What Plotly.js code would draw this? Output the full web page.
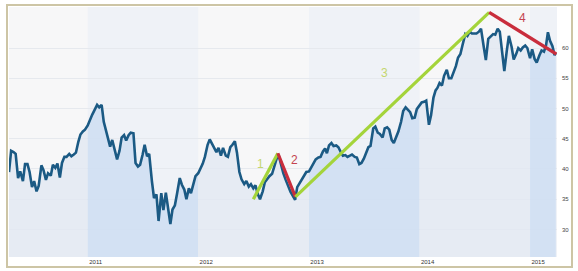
<!DOCTYPE html>
<html><head><meta charset="utf-8">
<script src="https://cdn.plot.ly/plotly-3.0.1.min.js"></script>
<style>
html,body{margin:0;padding:0;background:#fff;}
#wrap{position:relative;width:578px;height:271px;overflow:hidden;}
#chart{position:absolute;left:0;top:0;width:578px;height:271px;}
#frame{position:absolute;left:6px;top:4px;width:563px;height:260px;border:2px solid #cdc5a5;pointer-events:none;}
</style></head><body>
<div id="wrap"><div id="chart"></div><div id="frame"></div></div>
<script>
// Price series (weekly-ish readings)
const dates = [
"2010-04-16","2010-04-23",
"2010-05-01","2010-05-08","2010-05-16","2010-05-23",
"2010-06-01","2010-06-08","2010-06-16","2010-06-23",
"2010-07-01","2010-07-08","2010-07-16","2010-07-23",
"2010-08-01","2010-08-08","2010-08-16","2010-08-23",
"2010-09-01","2010-09-08","2010-09-16","2010-09-23",
"2010-10-01","2010-10-08","2010-10-16","2010-10-23",
"2010-11-01","2010-11-08","2010-11-16","2010-11-23",
"2010-12-01","2010-12-08","2010-12-16","2010-12-23",
"2011-01-01","2011-01-08","2011-01-16","2011-01-23",
"2011-02-01","2011-02-08","2011-02-16","2011-02-23",
"2011-03-01","2011-03-08","2011-03-16","2011-03-23",
"2011-04-01","2011-04-08","2011-04-16","2011-04-23",
"2011-05-01","2011-05-08","2011-05-16","2011-05-23",
"2011-06-01","2011-06-08","2011-06-16","2011-06-23",
"2011-07-01","2011-07-08","2011-07-16","2011-07-23",
"2011-08-01","2011-08-08","2011-08-16","2011-08-23",
"2011-09-01","2011-09-08","2011-09-16","2011-09-23",
"2011-10-01","2011-10-08","2011-10-16","2011-10-23",
"2011-11-01","2011-11-08","2011-11-16","2011-11-23",
"2011-12-01","2011-12-08","2011-12-16","2011-12-23",
"2012-01-01","2012-01-08","2012-01-16","2012-01-23",
"2012-02-01","2012-02-08","2012-02-16","2012-02-23",
"2012-03-01","2012-03-08","2012-03-16","2012-03-23",
"2012-04-01","2012-04-08","2012-04-16","2012-04-23",
"2012-05-01","2012-05-08","2012-05-16","2012-05-23",
"2012-06-01","2012-06-08","2012-06-16","2012-06-23",
"2012-07-01","2012-07-08","2012-07-16","2012-07-23",
"2012-08-01","2012-08-08","2012-08-16","2012-08-23",
"2012-09-01","2012-09-08","2012-09-16","2012-09-23",
"2012-10-01","2012-10-08","2012-10-16","2012-10-23",
"2012-11-01","2012-11-08","2012-11-16","2012-11-23",
"2012-12-01","2012-12-08","2012-12-16","2012-12-23",
"2013-01-01","2013-01-08","2013-01-16","2013-01-23",
"2013-02-01","2013-02-08","2013-02-16","2013-02-23",
"2013-03-01","2013-03-08","2013-03-16","2013-03-23",
"2013-04-01","2013-04-08","2013-04-16","2013-04-23",
"2013-05-01","2013-05-08","2013-05-16","2013-05-23",
"2013-06-01","2013-06-08","2013-06-16","2013-06-23",
"2013-07-01","2013-07-08","2013-07-16","2013-07-23",
"2013-08-01","2013-08-08","2013-08-16","2013-08-23",
"2013-09-01","2013-09-08","2013-09-16","2013-09-23",
"2013-10-01","2013-10-08","2013-10-16","2013-10-23",
"2013-11-01","2013-11-08","2013-11-16","2013-11-23",
"2013-12-01","2013-12-08","2013-12-16","2013-12-23",
"2014-01-01","2014-01-08","2014-01-16","2014-01-23",
"2014-02-01","2014-02-08","2014-02-16","2014-02-23",
"2014-03-01","2014-03-08","2014-03-16","2014-03-23",
"2014-04-01","2014-04-08","2014-04-16","2014-04-23",
"2014-05-01","2014-05-08","2014-05-16","2014-05-23",
"2014-06-01","2014-06-08","2014-06-16","2014-06-23",
"2014-07-01","2014-07-08","2014-07-16","2014-07-23",
"2014-08-01","2014-08-08","2014-08-16","2014-08-23",
"2014-09-01","2014-09-08","2014-09-16","2014-09-23",
"2014-10-01","2014-10-08","2014-10-16","2014-10-23",
"2014-11-01","2014-11-08","2014-11-16","2014-11-23",
"2014-12-01","2014-12-08","2014-12-16","2014-12-23",
"2015-01-01","2015-01-08","2015-01-16","2015-01-23",
"2015-02-01","2015-02-08","2015-02-16","2015-02-23",
"2015-03-01","2015-03-08","2015-03-16","2015-03-23","2015-03-27"
];
const price = [
39.5,43.0,
42.8,42.5,38.5,39.6,
38.0,40.8,40.8,39.5,
37.0,38.0,36.3,37.2,
40.6,39.8,38.2,39.3,
38.9,40.7,40.2,40.9,
38.6,41.0,42.0,42.0,
42.5,42.1,42.4,42.7,
44.5,45.7,46.2,46.5,
47.2,48.2,49.0,49.7,
50.6,50.2,50.6,47.8,
46.6,45.5,43.7,44.8,
42.8,41.6,43.0,45.2,
45.6,44.7,45.6,46.0,
45.9,41.0,40.4,40.7,
42.3,44.0,42.1,42.5,
38.0,35.2,35.8,31.4,
36.0,33.2,36.1,33.6,
30.9,33.3,34.0,35.9,
38.5,37.4,36.6,35.0,
36.8,36.0,37.3,38.8,
39.3,40.0,40.9,42.0,
44.0,44.9,44.2,43.4,
42.8,43.5,42.2,43.5,
42.2,42.0,43.6,44.0,
44.6,42.7,39.5,38.3,
37.5,38.0,37.1,37.5,
36.8,37.3,35.8,35.0,
36.3,37.8,38.4,38.8,
39.2,40.4,41.7,42.2,
40.4,39.3,38.2,37.2,
36.2,35.6,34.9,37.0,
37.7,38.1,38.8,39.5,
39.6,40.2,40.9,41.6,
41.9,42.0,42.9,43.4,
42.6,43.9,44.3,43.8,
43.9,43.6,42.8,42.2,
42.3,42.0,42.2,42.4,
42.0,41.9,40.8,41.0,
41.7,42.5,43.6,43.8,
46.7,47.0,46.0,45.8,
45.2,46.7,46.9,46.5,
44.8,44.3,45.3,46.2,
47.8,49.6,50.2,49.9,
49.4,48.4,48.5,49.9,
50.6,51.0,51.1,51.3,
47.3,48.9,51.8,53.0,
53.4,54.2,53.8,55.4,
56.4,55.0,55.0,55.8,
57.0,58.4,59.0,60.5,
62.3,62.0,62.7,62.4,
62.4,62.4,62.7,63.2,
60.2,58.0,61.5,61.9,
62.3,62.2,63.2,62.7,
59.0,56.2,59.5,62.0,
60.2,58.1,59.0,60.0,
59.6,60.1,60.4,60.0,
58.3,59.8,58.2,57.6,
58.8,59.6,59.4,60.5,
62.6,61.2,60.3,58.8,59.2
];

// Trend segments
const trend1X = ["2012-07-01","2012-09-20"], trend1Y = [35.0, 42.6];
const trend2X = ["2012-09-20","2012-11-17"], trend2Y = [42.6, 35.4];
const trend3X = ["2012-11-17","2014-08-19"], trend3Y = [35.4, 65.9];
const trend4X = ["2014-08-19","2015-03-29"], trend4Y = [65.9, 59.0];
const trendLabels = ["1","2","3","4"];

// Axes / bands
const yTicks = [30,35,40,45,50,55,60];
const xTickVals = ["2011-01-01","2012-01-01","2013-01-01","2014-01-01","2015-01-01"];
const xTickText = ["2011","2012","2013","2014","2015"];
const bandStarts = ["2010-01-01","2011-01-01","2012-01-01","2013-01-01","2014-01-01","2015-01-01"];
const bandEnds   = ["2011-01-01","2012-01-01","2013-01-01","2014-01-01","2015-01-01","2015-12-31"];
const bandShaded = [false, true, false, true, false, true];

const GREEN = "#a4d43a", RED = "#c92d3c";
const FILL_LIGHT = "rgba(226,232,241,0.82)", FILL_BLUE = "rgba(206,222,242,0.85)";

const traces = [];
// area fill, split per year band so shaded years get a bluer fill
bandStarts.forEach((s, b) => {
  const xs = [], ys = [];
  dates.forEach((d, i) => { if (d >= s && d <= bandEnds[b]) { xs.push(d); ys.push(price[i]); } });
  if (xs.length > 1) traces.push({x: xs, y: ys, type: "scatter", mode: "lines", fill: "tozeroy",
    fillcolor: bandShaded[b] ? FILL_BLUE : FILL_LIGHT, line: {width: 0}, hoverinfo: "skip"});
});
traces.push({x: dates, y: price, type: "scatter", mode: "lines",
   line: {color: "#1b5a84", width: 2.6}, hoverinfo: "skip"});
traces.push({x: trend1X, y: trend1Y, type: "scatter", mode: "lines", line: {color: GREEN, width: 3.2}});
traces.push({x: trend2X, y: trend2Y, type: "scatter", mode: "lines", line: {color: RED, width: 3.2}});
traces.push({x: trend3X, y: trend3Y, type: "scatter", mode: "lines", line: {color: GREEN, width: 3.2}});
traces.push({x: trend4X, y: trend4Y, type: "scatter", mode: "lines", line: {color: RED, width: 3.2}});

const shapes = bandStarts.map((s, i) => bandShaded[i] ? ({
  type: "rect", xref: "x", yref: "paper", x0: s, x1: bandEnds[i], y0: 0, y1: 1,
  fillcolor: "rgba(201,220,242,0.16)", line: {width: 0}, layer: "below"
}) : null).filter(Boolean);

const annPos = [["2012-07-25", 40.9, "#c4d66e"], ["2012-11-14", 41.5, "#c4434f"],
                ["2013-09-08", 55.8, "#c4d66e"], ["2014-12-08", 64.9, "#c4434f"]];
const annotations = trendLabels.map((t, i) => ({
  x: annPos[i][0], y: annPos[i][1], xref: "x", yref: "y", text: t, showarrow: false,
  font: {family: "Liberation Sans, Arial, sans-serif", size: 12, color: annPos[i][2]}
}));

const layout = {
  width: 578, height: 271,
  margin: {l: 9, r: 21, t: 7, b: 14, pad: 0},
  paper_bgcolor: "#ffffff", plot_bgcolor: "#f7f7f8",
  showlegend: false,
  font: {family: "Liberation Sans, Arial, sans-serif", size: 6, color: "#333"},
  xaxis: {type: "date", range: ["2010-04-16", "2015-03-31"],
          tickvals: xTickVals, ticktext: xTickText, ticklabelshift: 8,
          showgrid: false, zeroline: false, showline: false, ticks: "",
          tickfont: {size: 6, color: "#333"}},
  yaxis: {side: "right", range: [25.45, 66.78], tickvals: yTicks,
          showgrid: true, gridcolor: "#e6e9ee", gridwidth: 1,
          zeroline: false, showline: false, ticks: "", ticklabelstandoff: 4,
          tickfont: {size: 6, color: "#444"}},
  shapes: shapes, annotations: annotations
};

Plotly.newPlot("chart", traces, layout, {staticPlot: true, displayModeBar: false});
</script>
</body></html>
